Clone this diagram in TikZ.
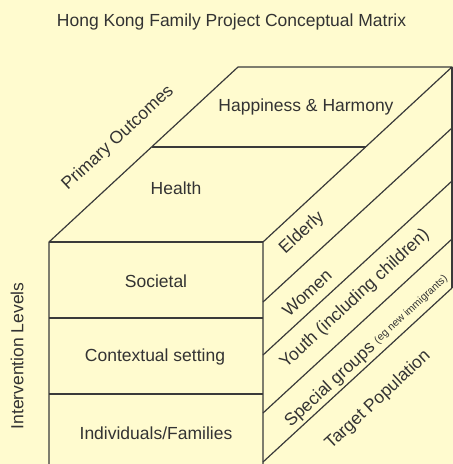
\documentclass[tikz,border=0pt]{standalone}
\usepackage{fontspec}
\setmainfont{Liberation Sans}
\definecolor{matrixbg}{HTML}{FFFBCF}
\definecolor{edgegray}{HTML}{3A3A3A}
\definecolor{textgray}{HTML}{333333}

\begin{document}
\begin{tikzpicture}[x=1pt,y=-1pt,
			face line/.style={draw=edgegray,line width=1.2pt,line join=round},
			main label/.style={font=\fontsize{17.5}{20}\selectfont,text=textgray,inner sep=0pt},
			slant label/.style={main label,rotate=42.8}]
			
			\useasboundingbox[fill=matrixbg] (0,0) rectangle (453,464);
			
			% corners of the box
			\coordinate (FTL) at (49,242);
			\coordinate (FTR) at (263,242);
			\coordinate (BTL) at (238,67);
			\coordinate (BTR) at (452,67);
			\coordinate (FBL) at (49,465);
			\coordinate (FBR) at (263,465);
			\coordinate (BBR) at (452,288);
			
			% faces
			\draw[face line] (FBL) -- (FTL) -- (BTL) -- (BTR) -- (FTR) -- (FBR);
			\draw[face line] (FTL) -- (FTR);
			\draw[face line] (BTR) -- (BBR);
			\draw[face line] (152,147) -- (366,147);
			\foreach \y in {318,394}
			\draw[face line] (49,\y) -- (263,\y);
			\foreach \y in {302,355,413,462}
			\draw[face line] (263,\y) -- ++(189,-174);
			
			\node[main label] (Title) at (231.5,22) {Hong Kong Family Project Conceptual Matrix};
			
			% top face
			\node[main label] (Happy) at (306,107) {Happiness \& Harmony};
			\node[main label] (Health) at (176,188) {Health};
			\node[slant label] (Outcomes) at (118,138) {Primary Outcomes};
			
			% front face
			\node[main label] (Societal) at (156,281) {Societal};
			\node[main label] (Context) at (155,357) {Contextual setting};
			\node[main label] (Indiv) at (156,433) {Individuals/Families};
			\node[main label,rotate=90] (Levels) at (17,356) {Intervention Levels};
			
			% right face
			\node[slant label] (Elderly) at (302,233) {Elderly};
			\node[slant label] (Women) at (307,293) {Women};
			\node[slant label] (Youth) at (355,299) {Youth (including children)};
			\node[slant label] (Special) at (367,351) {Special groups \raisebox{2pt}{\fontsize{10.5}{12}\selectfont(eg new immigrants)}};
			\node[slant label] (Target) at (378,400) {Target Population};
			\end{tikzpicture}
\end{document}
